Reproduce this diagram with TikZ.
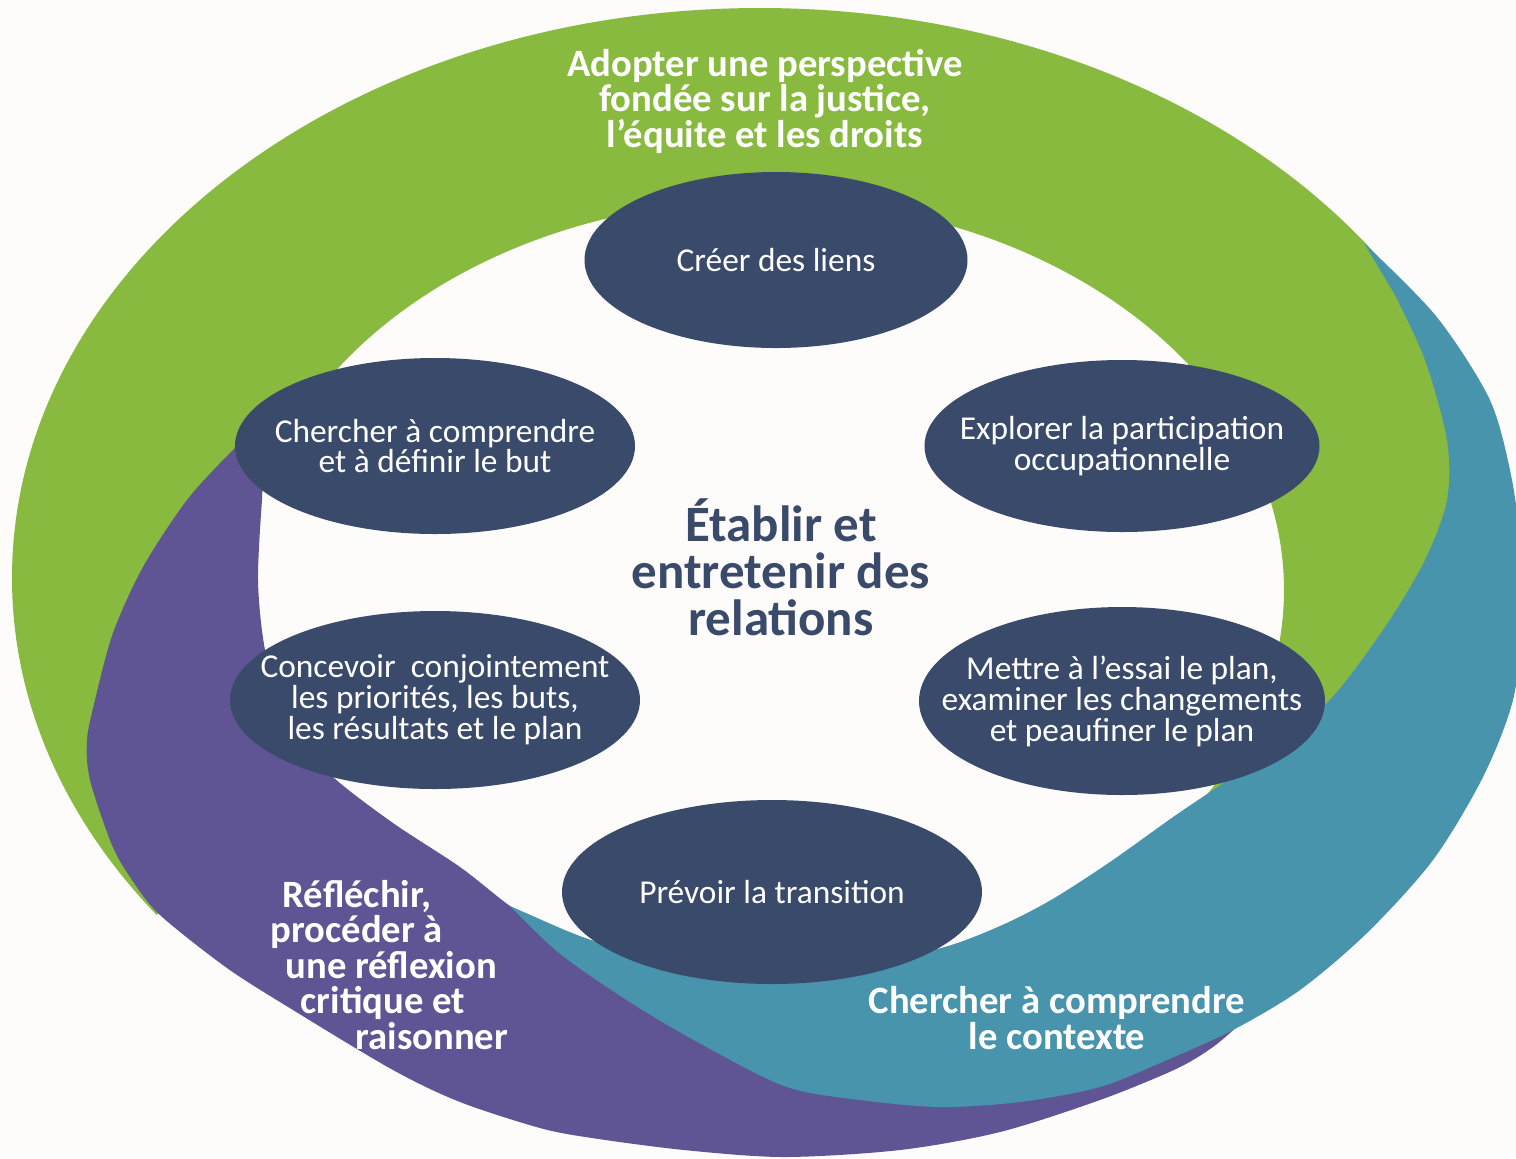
\documentclass[tikz,border=0pt]{standalone}
\usepackage{fontspec}
\setmainfont{Carlito}
\usetikzlibrary{shapes.geometric}
\definecolor{vert}{RGB}{137,186,64}
\definecolor{sarcelle}{RGB}{72,148,172}
\definecolor{violet}{RGB}{95,84,148}
\definecolor{marine}{RGB}{58,74,107}
\definecolor{fond}{RGB}{253,252,250}
\begin{document}
\begin{tikzpicture}[x=0.1mm, y=-0.1mm,
        etape/.style={ellipse, fill=marine, text=white, align=center,
            inner xsep=-12mm, inner ysep=0pt,
            minimum width=40mm, minimum height=17.6mm,
            font=\fontsize{9.5}{8.8}\selectfont},
        titre/.style={text=white, align=center, inner sep=0pt,
            font=\fontsize{11}{10.1}\selectfont\bfseries}]
    \useasboundingbox (0,0) rectangle (1516,1158);
    \clip (0,0) rectangle (1516,1158);
    \fill[fond] (0,0) rectangle (1516,1158);
    % anneau vert (le bas reste sous les croissants)
    \begin{scope}
        \clip (0,0) -- (1516,0) -- (1516,690) -- (1508,700) -- (1478,772) -- (1428,853)
            -- (1362,926) -- (1296,982) -- (1230,1022) -- (1165,1050) -- (1100,1090)
            -- (1000,1124) -- (900,1142) -- (784,1149) -- (684,1142) -- (592,1130)
            -- (540,1120) -- (460,1094) -- (393,1062) -- (293,1002) -- (227,960)
            -- (160,913) -- (0,990) -- cycle;
        \fill[vert, even odd rule] (760,578) ellipse [x radius=74.8mm, y radius=57mm]
            (765,590) ellipse [x radius=51.9mm, y radius=39mm];
    \end{scope}
    % croissant violet
    \fill[violet] plot[smooth] coordinates {(262,425) (233,450) (187,500) (143,567)
            (113,633) (95,700) (87,740) (90,780) (112,845) (132,880) (160,915)
            (227,968) (293,1010) (393,1070) (460,1102) (540,1128) (592,1138)
            (684,1150) (784,1157) (900,1150) (1000,1132) (1100,1100) (1176,1069)
            (1213,1047) (1240,1024)}
        -- plot[smooth] coordinates {(1150,1040) (1000,1040) (860,1025) (740,1000)
            (620,970) (560,938) (510,906) (460,867) (393,823) (333,777) (285,725)
            (265,650) (258,580) (262,500)}
        -- cycle;
    % croissant sarcelle
    \fill[sarcelle] plot[smooth] coordinates {(1364,243) (1436,316) (1489,398)
            (1510,470) (1520,540) (1522,620) (1513,700) (1483,777) (1433,860)
            (1367,933) (1300,990) (1233,1030) (1167,1060) (1100,1087) (1020,1102)
            (940,1107) (860,1100) (784,1086) (692,1039) (625,999) (559,953) (510,906)}
        -- plot[smooth] coordinates {(560,928) (605,944) (700,962) (780,967)
            (860,962) (941,948) (1000,926) (1051,900) (1110,862) (1176,815)
            (1255,761) (1327,703) (1385,627) (1425,560) (1447,500) (1447,440)
            (1425,360) (1395,295)}
        -- cycle;

    \node[etape, minimum width=38.3mm] (creer) at (776,260) {Créer des liens};
    \node[etape] (chercher) at (435,446) {Chercher à comprendre\\et à définir le but};
    \node[etape, minimum width=39.5mm, minimum height=17.2mm] (explorer) at (1122,446)
        {Explorer la participation\\occupationnelle};
    \node[etape, minimum width=41mm, minimum height=17.8mm] (concevoir) at (435,700)
        {Concevoir\ \ conjointement\\les priorités, les buts,\\les résultats et le plan};
    \node[etape, minimum width=40.6mm, minimum height=18.8mm] (mettre) at (1122,701)
        {Mettre à l’essai le plan,\\examiner les changements\\et peaufiner le plan};
    \node[etape, minimum width=42mm, minimum height=18.4mm] (prevoir) at (772,892)
        {Prévoir la transition};

    \node[text=marine, align=center, font=\fontsize{14.5}{13.4}\selectfont\bfseries]
        (relations) at (781,567) {Établir et\\entretenir des\\relations};

    \node[titre] (justice) at (765,101) {Adopter une perspective\\fondée sur la justice,\\l’équite et les droits};
    \node[titre] (contexte) at (1057,1018) {Chercher à comprendre\\le contexte};
    \node[titre, align=left, anchor=west] (reflechir) at (270,965)
        {\hspace*{1.2mm}Réfléchir,\\procéder à\\\hspace*{1.5mm}une réflexion\\
         \hspace*{3mm}critique et\\\hspace*{8.5mm}raisonner};
\end{tikzpicture}
\end{document}
